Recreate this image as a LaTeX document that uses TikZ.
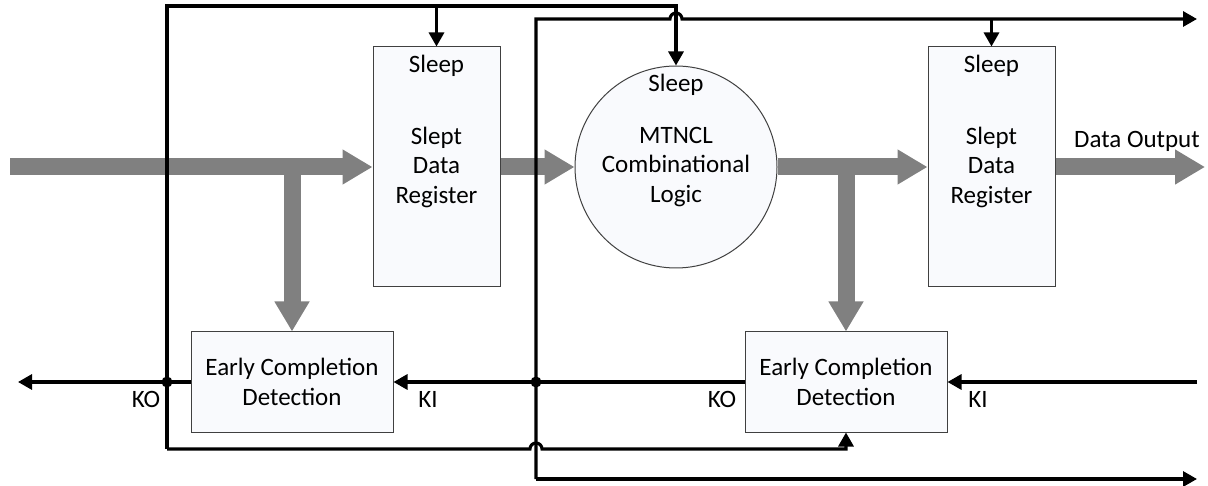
\documentclass[tikz,border=0pt]{standalone}
\usepackage{fontspec}
\setmainfont{Carlito}
\usepackage{tikz}
\usetikzlibrary{arrows.meta}
\definecolor{boxfill}{RGB}{249,250,253}
\definecolor{fatgray}{RGB}{128,128,128}
\tikzset{
	blockbox/.style={draw=black!75, line width=1pt, fill=boxfill, inner sep=0pt, align=center},
	wire/.style={line width=3.1pt, draw=black},
	arr/.style={-{Triangle[length=14pt,width=15pt]}},
	fat/.style={line width=17pt, draw=fatgray, -{Triangle[length=30pt,width=33pt]}},
	lbl/.style={inner sep=1pt},
	toplbl/.style={inner sep=0pt, anchor=north, yshift=-8pt}
}
\begin{document}
\begin{tikzpicture}[x=1pt,y=-1pt,font={\fontsize{25}{29.5}\selectfont}]
	\useasboundingbox (0,0) rectangle (1208,486);
	\node[blockbox, minimum width=127, minimum height=240] (regA) at (436.5,167) {Slept\\Data\\Register};
	\node[blockbox, minimum width=127, minimum height=240] (regB) at (991.5,167) {Slept\\Data\\Register};
	\node[blockbox, circle, minimum size=202] (logic) at (676,167) {MTNCL\\Combinational\\Logic};
	\node[blockbox, minimum width=202, minimum height=100] (ecdA) at (292,382) {Early Completion\\Detection};
	\node[blockbox, minimum width=202, minimum height=100] (ecdB) at (846,382) {Early Completion\\Detection};
	\node[toplbl] (sleepA) at (regA.north) {Sleep};
	\node[toplbl] (sleepB) at (regB.north) {Sleep};
	\node[toplbl] (sleepC) at (logic.north) {Sleep};
	\node[lbl] (dout) at (1137,141) {Data Output};
	\node[lbl] (koA) at (146,399) {KO};
	\node[lbl] (kiA) at (428,399) {KI};
	\node[lbl] (koB) at (722,399) {KO};
	\node[lbl] (kiB) at (978,399) {KI};
	\coordinate (din) at (10,167);
	\coordinate (dend) at (1205,167);
	\coordinate (railA) at (167,449);
	\coordinate (railB) at (536,479);
	\coordinate (dotA) at (167,382);
	\coordinate (dotB) at (536,382);
	\coordinate (koEnd) at (18,382);
	\coordinate (kiStart) at (1197,382);
	\draw[fat] (din) -- (regA.west);
	\draw[fat] (ecdA.north |- din) -- (ecdA.north);
	\draw[fat] (regA.east) -- (logic.west);
	\draw[fat] (logic.east) -- (regB.west);
	\draw[fat] (ecdB.north |- din) -- (ecdB.north);
	\draw[fat] (regB.east) -- (dend);
	\draw[wire,arr] (railA) -- (167,6) -- (logic.north |- 0,6) -- (logic.north);
	\draw[wire,arr] (regA.north |- 0,6) -- (regA.north);
	\draw[wire,arr] (railA) -- (530,449) arc (180:360:6) -- (ecdB.south |- 0,449) -- (ecdB.south);
	\draw[wire,arr] (railB) -- (536,19) -- (670,19) arc (180:360:6) -- (1197,19);
	\draw[wire,arr] (regB.north |- 0,19) -- (regB.north);
	\draw[wire,arr] (railB) -- (1197,479);
	\draw[wire,arr] (kiStart) -- (ecdB.east);
	\draw[wire,arr] (ecdB.west) -- (ecdA.east);
	\draw[wire,arr] (ecdA.west) -- (koEnd);
	\fill (dotA) circle (5.5);
	\fill (dotB) circle (5.5);
\end{tikzpicture}
\end{document}
